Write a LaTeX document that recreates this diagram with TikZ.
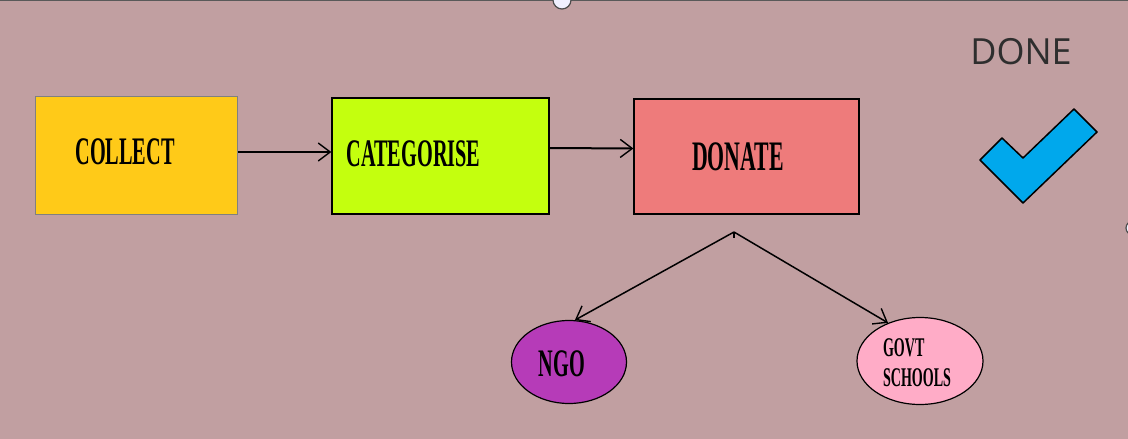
\documentclass[tikz,border=0pt]{standalone}
\usepackage{fontspec}
\usepackage{tikz}
\usetikzlibrary{shapes.geometric,arrows.meta}

\newfontfamily\boxfont[FakeStretch=0.52]{Liberation Serif}
\newfontfamily\donefont{Open Sans}

\definecolor{bgpink}{HTML}{C19FA1}
\definecolor{collectcol}{HTML}{FFCA18}
\definecolor{categcol}{HTML}{C4FF0E}
\definecolor{donatecol}{HTML}{EE7B7B}
\definecolor{ngocol}{HTML}{B63BB8}
\definecolor{govtcol}{HTML}{FFACC7}
\definecolor{tickcol}{HTML}{00A8EC}

\tikzset{
    stagebox/.style={rectangle, draw=black, line width=1.2pt, inner sep=0pt},
    stagetext/.style={font=\boxfont\bfseries, inner sep=0pt},
    target/.style={ellipse, draw=black, line width=1.2pt, inner sep=0pt},
    arr/.style={-{Straight Barb[length=12pt,width=18pt,line width=1.4pt]}, line width=1.3pt}
}

\begin{document}
\begin{tikzpicture}[x=1pt, y=-1pt]
            \useasboundingbox (0,0) rectangle (1128,439);
            \clip (0,0) rectangle (1128,439);
            \fill[bgpink] (0,0) rectangle (1128,439);
            \draw[gray!70!black, line width=2pt] (0,0) -- (1128,0);

            % stages
            \node[stagebox, draw=gray, line width=1pt, fill=collectcol, minimum width=202pt, minimum height=118pt] (collect) at (136,155) {};
            \node[stagebox, fill=categcol, minimum width=217pt, minimum height=116pt] (categorise) at (440.5,156) {};
            \node[stagebox, fill=donatecol, minimum width=225pt, minimum height=115pt] (donate) at (746.5,156.5) {};

            \node[stagetext, font=\boxfont\bfseries\fontsize{39}{44}\selectfont] (collect text) at (125,152) {COLLECT};
            \node[stagetext, font=\boxfont\bfseries\fontsize{39}{44}\selectfont] (categorise text) at (413.5,154) {CATEGORISE};
            \node[stagetext, font=\boxfont\bfseries\fontsize{42}{46}\selectfont] (donate text) at (738,157) {DONATE};

            % receivers
            \node[target, fill=ngocol, minimum width=115pt, minimum height=83pt] (ngo) at (569,362) {};
            \node[stagetext, font=\boxfont\bfseries\fontsize{39}{44}\selectfont] (ngo text) at (562,364) {NGO};
            \node[target, fill=govtcol, minimum width=126pt, minimum height=87pt] (govt) at (920,361) {};
            \node[stagetext, align=left, font=\boxfont\bfseries\fontsize{27}{30}\selectfont] (govt text) at (917,363) {GOVT\\SCHOOLS};

            \coordinate (fork) at (734,232);

            \draw[arr] ([yshift=3pt]collect.east) -- ([yshift=4pt]categorise.west);
            \draw[arr, line width=2pt] ([yshift=8pt]categorise.east) -- ([yshift=8pt]donate.west);
            \draw[line width=1.5pt] (fork) -- ++(0,6);
            \draw[arr, line width=1.5pt] (fork) -- (ngo.82);
            \draw[arr, line width=1.5pt] (fork) -- (govt.130);

            % done mark
            \node[font=\donefont\fontsize{36}{38}\selectfont, text=black!82, inner sep=0pt] (done) at (1021,52) {DONE};
            \draw[fill=tickcol, line width=1.5pt, line join=round] (980,160) -- (1002,138) -- (1023,158) -- (1074,109) -- (1097,132) -- (1023,203) -- cycle;

            % handles
            \draw[fill=white!94!blue, draw=gray!60!black, line width=1.2pt] (562,0) circle (9);
            \draw[fill=white!94!blue, draw=gray!60!black, line width=1.2pt] (1133,228) circle (7);
        \end{tikzpicture}
\end{document}
